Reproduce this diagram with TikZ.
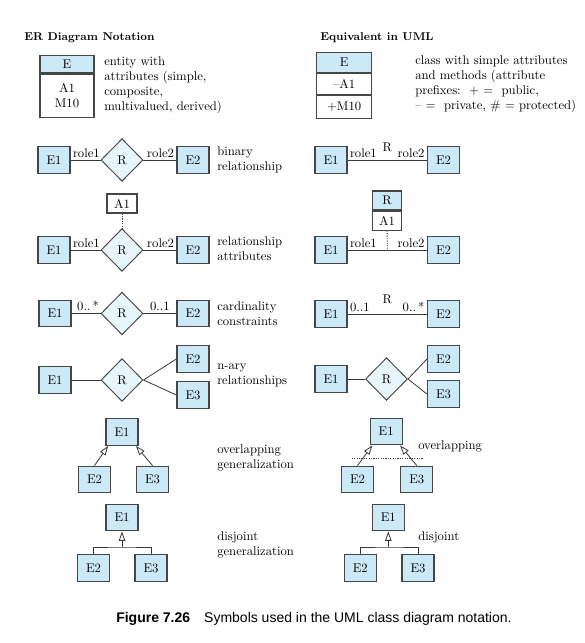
\documentclass[tikz,border=0pt]{standalone}
\usepackage{fontspec}
\newfontfamily\capfont{Liberation Sans}
\usepackage{xcolor}
\usetikzlibrary{shapes.geometric, arrows.meta, positioning}
\definecolor{entblue}{RGB}{204,233,248}
\definecolor{relblue}{RGB}{231,245,252}
\definecolor{boxline}{RGB}{70,70,70}
\definecolor{connline}{RGB}{55,55,55}

\begin{document}
\begin{tikzpicture}[x=0.75pt, y=-0.75pt,
    font=\fontsize{9.5}{11.25}\selectfont,
    ent/.style={draw=boxline, fill=entblue, line width=0.9pt, minimum width=24pt, minimum height=20pt, inner sep=0pt},
    part/.style={draw=boxline, line width=0.9pt, inner sep=0pt},
    rel/.style={diamond, draw=boxline, fill=relblue, line width=0.7pt, minimum width=31.5pt, minimum height=32pt, inner sep=0pt},
    conn/.style={draw=connline, line width=0.6pt},
    attr/.style={conn, dash pattern=on 0.9pt off 0.9pt},
    isa/.style={conn, -{Triangle[open, length=7pt, width=4.8pt]}},
    note/.style={anchor=west, align=left, inner sep=0pt},
    title/.style={anchor=base west, inner sep=0pt, font=\bfseries\fontsize{8.5}{10}\selectfont},
    role/.style={inner sep=1.5pt}]
    \useasboundingbox (0,0) rectangle (585,643);
    \newcommand*{\erx}{217}
    \node[title] (erTitle) at (24,40) {ER Diagram Notation};
    \node[title] (umlTitle) at (320,40) {Equivalent in UML};

    \node[part, fill=entblue, minimum width=40.5pt, minimum height=13.1pt] (eHead) at (67,64) {E};
    \node[part, fill=white, minimum width=40.5pt, minimum height=32.6pt, align=center, below=0pt of eHead] (eBody) {A1\\M10};
    \node[note] (eTxt) at (104,85) {entity with\\attributes (simple,\\composite,\\multivalued, derived)};
    \node[part, fill=entblue, minimum width=41.25pt, minimum height=14.7pt] (cHead) at (344.2,62.5) {E};
    \node[part, fill=white, minimum width=41.25pt, minimum height=15.5pt, below=0pt of cHead] (cAttr) {--A1};
    \node[part, fill=white, minimum width=41.25pt, minimum height=17.5pt, below=0pt of cAttr] (cMeth) {+M10};
    \node[note] (cTxt) at (415,84) {class with simple attributes\\and methods (attribute\\prefixes:\ \ + = \ public,\\-- = \ private, \# = protected)};

    \node[ent] (bE1) at (54,160) {E1};
    \node[rel] (bR) at (122,160) {R};
    \node[ent] (bE2) at (193,160) {E2};
    \draw[conn] (bE1) -- node[pos=0, anchor=south west, role] {role1} (bR);
    \draw[conn] (bR) -- node[pos=1, anchor=south east, role] {role2} (bE2);
    \node[note] (bTxt) at (\erx,159.5) {binary\\relationship};
    \node[ent] (ubE1) at (331,160) {E1};
    \node[ent] (ubE2) at (443.5,160) {E2};
    \draw[conn] (ubE1) -- node[pos=0, anchor=south west, role] {role1} node[midway, above=2.5pt] {R} node[pos=1, anchor=south east, role] {role2} (ubE2);

    \node[part, fill=white, minimum width=22.5pt, minimum height=14.25pt] (aA1) at (122,203.5) {A1};
    \node[rel] (aR) at (122,250) {R};
    \node[ent] (aE1) at (54,250) {E1};
    \node[ent] (aE2) at (193,250) {E2};
    \draw[attr] (aA1) -- (aR);
    \draw[conn] (aE1) -- node[pos=0, anchor=south west, role] {role1} (aR);
    \draw[conn] (aR) -- node[pos=1, anchor=south east, role] {role2} (aE2);
    \node[note] (aTxt) at (\erx,248.5) {relationship\\attributes};
    \node[part, fill=entblue, minimum width=21.75pt, minimum height=14.25pt] (uaR) at (387,200.5) {R};
    \node[part, fill=white, minimum width=21.75pt, minimum height=14.25pt, below=0pt of uaR] (uaA1) {A1};
    \node[ent] (uaE1) at (331,250) {E1};
    \node[ent] (uaE2) at (443.5,250) {E2};
    \draw[conn] (uaE1) -- node[pos=0, anchor=south west, role] {role1} coordinate[midway] (uaMid) node[pos=1, anchor=south east, role] {role2} (uaE2);
    \draw[attr] (uaA1) -- (uaMid);

    \node[ent] (kE1) at (55,313.5) {E1};
    \node[rel] (kR) at (122,313.5) {R};
    \node[ent] (kE2) at (193,313.5) {E2};
    \draw[conn] (kE1) -- node[pos=0.57, above, role] {0..\,*} (kR);
    \draw[conn] (kR) -- node[midway, above, role] {0..1} (kE2);
    \node[note] (kTxt) at (\erx,314) {cardinality\\constraints};
    \node[ent] (ukE1) at (331,314) {E1};
    \node[ent] (ukE2) at (443.5,314) {E2};
    \draw[conn] (ukE1) -- node[pos=0, anchor=south west, role] {0..1} node[midway, above=4pt] {R} node[pos=1, anchor=south east, role] {0..\,*} (ukE2);

    \node[ent] (nE1) at (55,380) {E1};
    \node[rel] (nR) at (122,380) {R};
    \node[ent] (nE2) at (193,359) {E2};
    \node[ent] (nE3) at (193,395) {E3};
    \draw[conn] (nE1) -- (nR);
    \draw[conn] (nR.east) -- (nE2.west);
    \draw[conn] (nR.east) -- (nE3.west);
    \node[note] (nTxt) at (\erx,375.5) {n-ary\\relationships};
    \node[ent] (unE1) at (331,379) {E1};
    \node[rel] (unR) at (386.5,379) {R};
    \node[ent] (unE2) at (443.5,359) {E2};
    \node[ent] (unE3) at (443.5,394) {E3};
    \draw[conn] (unE1) -- (unR);
    \draw[conn] (unR.east) -- (unE2.west);
    \draw[conn] (unR.east) -- (unE3.west);

    \node[ent] (oE1) at (122,432) {E1};
    \node[ent] (oE2) at (94.5,479.5) {E2};
    \node[ent] (oE3) at (152.5,479.5) {E3};
    \draw[isa] (oE2.north) -- (oE1.-135);
    \draw[isa] (oE3.north) -- (oE1.-45);
    \node[note] (oTxt) at (\erx,458) {overlapping\\generalization};
    \node[ent] (uoE1) at (386.2,431.5) {E1};
    \node[ent] (uoE2) at (357.5,479.5) {E2};
    \node[ent] (uoE3) at (416.8,479.5) {E3};
    \draw[isa] (uoE2.north) -- (uoE1.-135);
    \draw[isa] (uoE3.north) -- (uoE1.-45);
    \coordinate (uoL) at (351.7,458);
    \coordinate (uoR) at (422.7,458);
    \draw[attr] (uoL) -- (uoR);
    \node[note] (uoTxt) at (418,446) {overlapping};

    \node[ent] (dE1) at (122,517.5) {E1};
    \node[ent] (dE2) at (93.5,568) {E2};
    \node[ent] (dE3) at (151,568) {E3};
    \coordinate (dJoin) at (122,547);
    \draw[conn] (dE2.north) |- (dJoin) -| (dE3.north);
    \draw[isa] (dJoin) -- (dE1.south);
    \node[note] (dTxt) at (\erx,545) {disjoint\\generalization};
    \node[ent] (udE1) at (388.3,517.5) {E1};
    \node[ent] (udE2) at (360.3,568) {E2};
    \node[ent] (udE3) at (418,568) {E3};
    \coordinate (udJoin) at (388.3,547);
    \draw[conn] (udE2.north) |- (udJoin) -| (udE3.north);
    \draw[isa] (udJoin) -- (udE1.south);
    \node[note] (udTxt) at (418,537.7) {disjoint};

    \node[anchor=base west, inner sep=0pt, font=\capfont\fontsize{10.5}{12.5}\selectfont] (caption) at (116,622) {\textbf{Figure 7.26}\quad Symbols used in the UML class diagram notation.};
\end{tikzpicture}
\end{document}
